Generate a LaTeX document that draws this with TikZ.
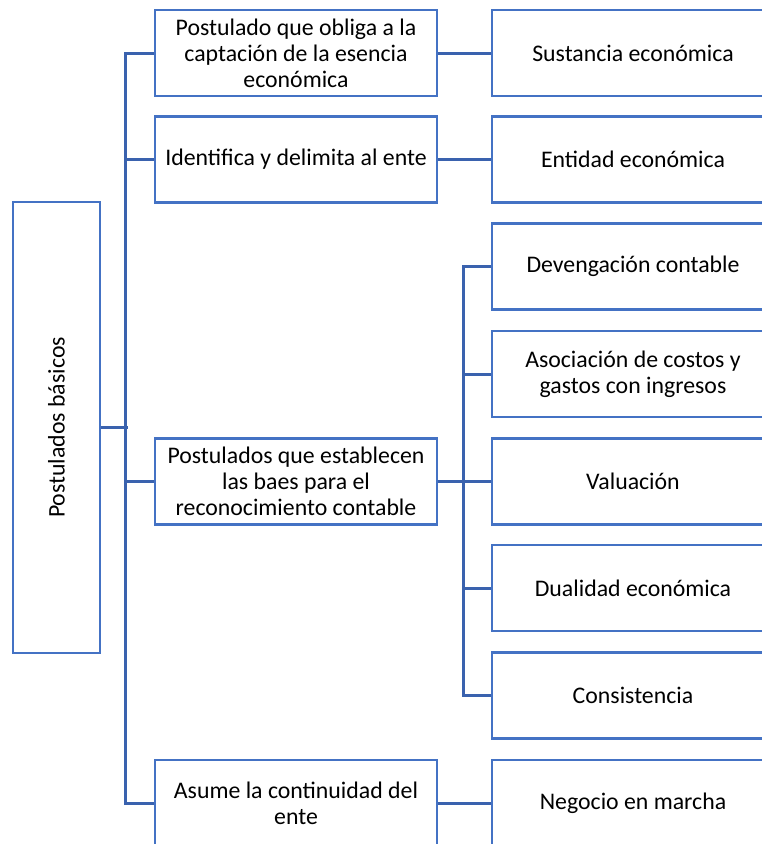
\documentclass[tikz,border=0pt]{standalone}
\usepackage{fontspec}
\setmainfont{Carlito}
\definecolor{boxblue}{HTML}{4472C4}
\definecolor{linkblue}{HTML}{3A62AE}

\begin{document}
\begin{tikzpicture}[x=1pt,y=-1pt,
  box/.style={draw=boxblue, line width=2.8pt, minimum width=282pt,
    minimum height=86pt, inner sep=0pt, align=center, text=black,
    font=\fontsize{23.8}{26}\selectfont},
  link/.style={draw=linkblue, line width=3pt}]
\useasboundingbox (0,0) rectangle (762,844);
\clip (0,0) rectangle (762,844);

% root
\node[box, minimum width=87pt, minimum height=451pt] (root) at (56.5,427.5)
  {\rotatebox{90}{Postulados básicos}};

% second level
\node[box] (m1) at (296,53)    {Postulado que obliga a la\\captación de la esencia\\económica};
\node[box] (m2) at (296,159.5) {Identifica y delimita al ente};
\node[box] (m3) at (296,481.5) {Postulados que establecen\\las baes para el\\reconocimiento contable};
\node[box] (m4) at (296,803)   {Asume la continuidad del\\ente};

% third level
\node[box] (r1) at (633,53)    {Sustancia económica};
\node[box] (r2) at (633,159.5) {Entidad económica};
\node[box] (r3) at (633,266.5) {Devengación contable};
\node[box] (r4) at (633,374)   {Asociación de costos y\\gastos con ingresos};
\node[box] (r5) at (633,481.5) {Valuación};
\node[box] (r6) at (633,588)   {Dualidad económica};
\node[box] (r7) at (633,695.5) {Consistencia};
\node[box] (r8) at (633,803)   {Negocio en marcha};

% main spine
\draw[link] (m1.west) -- ++(-28,0) |- (m4.west);
\draw[link] (m2.west) -- ++(-28,0);
\draw[link] (m3.west) -- ++(-28,0);
\draw[link] (root.east) -- ++(27,0);

% direct links
\draw[link] (m1.east) -- (r1.west);
\draw[link] (m2.east) -- (r2.west);
\draw[link] (m4.east) -- (r8.west);
\draw[link] (m3.east) -- (r5.west);

% sub spine
\draw[link] (r3.west) -- ++(-27,0) |- (r7.west);
\draw[link] (r4.west) -- ++(-27,0);
\draw[link] (r5.west) -- ++(-27,0);
\draw[link] (r6.west) -- ++(-27,0);
\end{tikzpicture}
\end{document}
